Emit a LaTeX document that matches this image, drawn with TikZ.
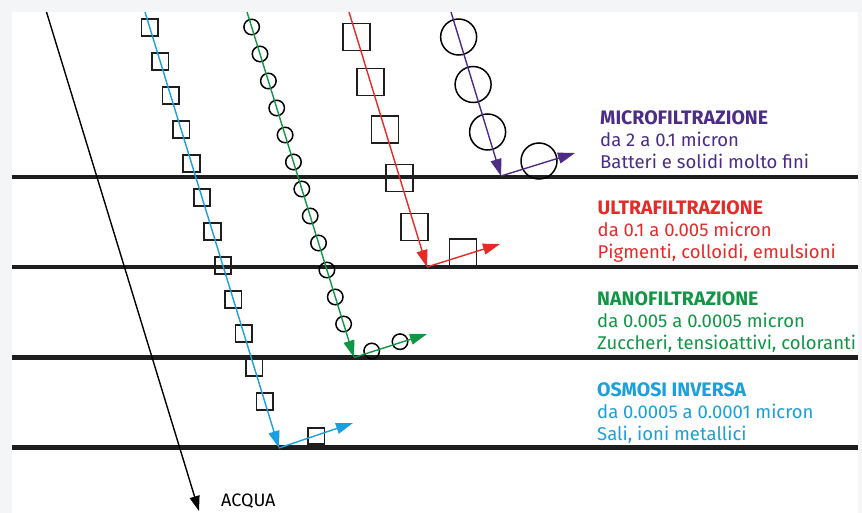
\documentclass[tikz,border=0pt]{standalone}
\usepackage{fontspec}
\setmainfont{Fira Sans}
\usetikzlibrary{arrows.meta,calc}

\definecolor{mfcol}{RGB}{76,44,134}
\definecolor{ufcol}{RGB}{230,42,40}
\definecolor{nfcol}{RGB}{18,150,70}
\definecolor{oicol}{RGB}{26,160,220}
\definecolor{ink}{RGB}{30,30,30}
\definecolor{margin}{RGB}{244,245,247}

\tikzset{
  membrane/.style={line width=4.5pt, ink},
  flow/.style={line width=1.4pt, -{Triangle[length=17pt,width=11pt]}},
  water/.style={line width=1.4pt, black, -{Triangle[length=15pt,width=10pt]}},
  bigsq/.style={draw=ink, line width=1.7pt, minimum size=27pt, inner sep=0pt, outer sep=0pt},
  smallsq/.style={draw=ink, line width=1.7pt, minimum size=16.5pt, inner sep=0pt, outer sep=0pt},
  bigcirc/.style={circle, draw=black, line width=1.5pt, minimum size=36pt, inner sep=0pt},
  smallcirc/.style={circle, draw=black, line width=1.5pt, minimum size=15.5pt, inner sep=0pt},
  title/.style={anchor=base west, inner sep=0pt, font=\fontsize{19.5}{22}\selectfont\bfseries},
  info/.style={anchor=base west, inner sep=0pt, font=\fontsize{18.5}{22}\selectfont},
}

\begin{document}
\begin{tikzpicture}[x=1pt, y=-1pt]
  % page and white sheet
  \fill[margin] (0,0) rectangle (862,513);
  \fill[white] (12,12) rectangle (858,513);
  \useasboundingbox (0,0) rectangle (862,513);

  % membranes
  \coordinate (m1a) at (12,177);   \coordinate (m1b) at (858,177);
  \coordinate (m2a) at (12,267);   \coordinate (m2b) at (858,267);
  \coordinate (m3a) at (12,357.5); \coordinate (m3b) at (858,357.5);
  \coordinate (m4a) at (12,447.5); \coordinate (m4b) at (858,447.5);
  \draw[membrane] (m1a) -- (m1b);
  \draw[membrane] (m2a) -- (m2b);
  \draw[membrane] (m3a) -- (m3b);
  \draw[membrane] (m4a) -- (m4b);

  % water passes through every membrane
  \coordinate (w0) at (46.5,12);
  \coordinate (w1) at (199,511);
  \draw[water] (w0) -- (w1);
  \node[info, black, font=\fontsize{18}{22}\selectfont] (acqua) at (221,506.5) {ACQUA};

  % reverse osmosis: small squares
  \coordinate (b0) at (145,12);
  \coordinate (b1) at (279,448);
  \coordinate (b2) at (353,423);
  \foreach \y [count=\i] in {27.5,61.5,95.5,129.5,163.5,197.5,231.5,265.5,299.5,333.5,367.5,401.5}
    \node[smallsq] (bsq\i) at ({145+0.3073*(\y-12)},\y) {};
  \node[smallsq] (bsqr) at (316.3,436) {};
  \draw[flow, oicol] (b0) -- (b1);
  \draw[flow, oicol] (b1) -- (b2);

  % nanofiltration: small circles
  \coordinate (g0) at (247,12);
  \coordinate (g1) at (354,357.5);
  \coordinate (g2) at (427,334);
  \foreach \y [count=\i] in {27,54,81,108,135,162,189,216,243,270,297,324}
    \node[smallcirc] (gc\i) at ({247+0.3097*(\y-12)},\y) {};
  \node[smallcirc] (gcr1) at (371.7,351) {};
  \node[smallcirc] (gcr2) at (400,341.7) {};
  \draw[flow, nfcol] (g0) -- (g1);
  \draw[flow, nfcol] (g1) -- (g2);

  % ultrafiltration: large squares
  \coordinate (r0) at (349,12);
  \coordinate (r1) at (427,267);
  \coordinate (r2) at (500,244);
  \foreach \y [count=\i] in {37,82,129.7,178,227}
    \node[bigsq] (rsq\i) at ({349+0.306*(\y-12)},\y) {};
  \node[bigsq] (rsqr) at (463,252.5) {};
  \draw[flow, ufcol] (r0) -- (r1);
  \draw[flow, ufcol] (r1) -- (r2);

  % microfiltration: large circles
  \coordinate (p0) at (451,12);
  \coordinate (p1) at (501,176);
  \coordinate (p2) at (575,153);
  \foreach \y [count=\i] in {37,84.5,132}
    \node[bigcirc] (pc\i) at ({451+0.305*(\y-12)},\y) {};
  \node[bigcirc] (pcr) at (539,161) {};
  \draw[flow, mfcol] (p0) -- (p1);
  \draw[flow, mfcol] (p1) -- (p2);

  % legend
  \node[title, mfcol] (mft) at (600,124.5) {MICROFILTRAZIONE};
  \node[info,  mfcol] (mfr) at (600,146.5) {da 2 a 0.1 micron};
  \node[info,  mfcol] (mfd) at (600,168.5) {Batteri e solidi molto fini};

  \node[title, ufcol] (uft) at (597.5,214.5) {ULTRAFILTRAZIONE};
  \node[info,  ufcol] (ufr) at (597.5,236.5) {da 0.1 a 0.005 micron};
  \node[info,  ufcol] (ufd) at (597.5,258.5) {Pigmenti, colloidi, emulsioni};

  \node[title, nfcol] (nft) at (597,305.5) {NANOFILTRAZIONE};
  \node[info,  nfcol] (nfr) at (597,327.5) {da 0.005 a 0.0005 micron};
  \node[info,  nfcol] (nfd) at (597,349.5) {Zuccheri, tensioattivi, coloranti};

  \node[title, oicol] (oit) at (597,396.5) {OSMOSI INVERSA};
  \node[info,  oicol] (oir) at (597,418.5) {da 0.0005 a 0.0001 micron};
  \node[info,  oicol] (oid) at (597,440.5) {Sali, ioni metallici};
\end{tikzpicture}
\end{document}
